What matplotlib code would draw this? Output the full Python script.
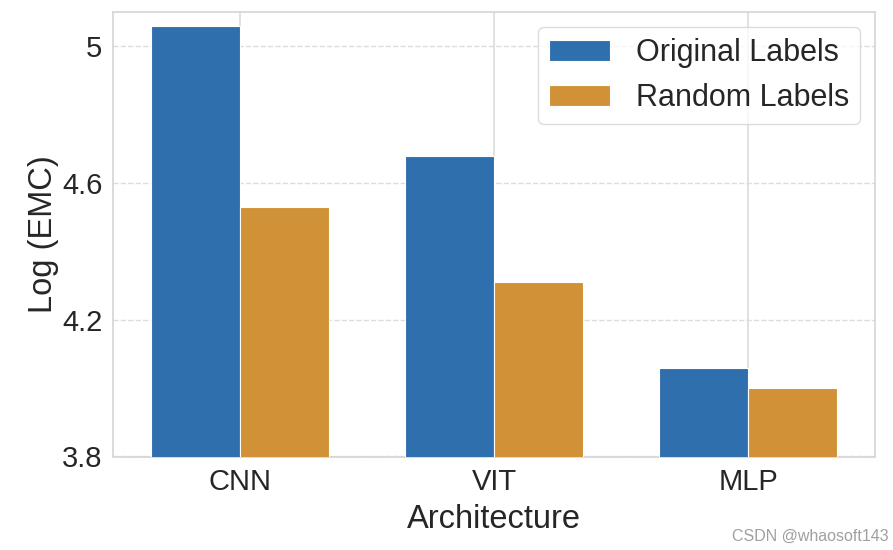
import numpy as np
import matplotlib.pyplot as plt

plt.rcParams['font.family'] = ['Liberation Sans', 'DejaVu Sans']

architectures = ['CNN', 'VIT', 'MLP']
original_labels = [5.06, 4.68, 4.06]
random_labels = [4.53, 4.31, 4.00]
yticks = [3.8, 4.2, 4.6, 5.0]
ytick_labels = ['3.8', '4.2', '4.6', '5']

x = np.arange(len(architectures))
width = 0.35

fig, ax = plt.subplots(figsize=(8.93, 5.5), dpi=100)
ax.bar(x - width / 2, original_labels, width, color='#2f6fad', label='Original Labels',
       edgecolor='white', linewidth=0.8, zorder=3)
ax.bar(x + width / 2, random_labels, width, color='#d19136', label='Random Labels',
       edgecolor='white', linewidth=0.8, zorder=3)

ax.set_xlim(-0.5, 2.5)
ax.set_ylim(3.8, 5.1)
ax.set_xticks(x)
ax.set_xticklabels(architectures)
ax.set_yticks(yticks)
ax.set_yticklabels(ytick_labels)
ax.tick_params(axis='both', labelsize=21, length=0, colors='#262626', pad=8)

ax.xaxis.grid(True, color='#dcdcdc', linewidth=1.2, zorder=0)
ax.yaxis.grid(True, color='#dcdcdc', linestyle='--', linewidth=1.0, zorder=0)
ax.set_axisbelow(True)
for s in ax.spines.values():
    s.set_color('#d4d4d4')
    s.set_linewidth(1.2)

ax.set_xlabel('Architecture', fontsize=23.5, color='#262626', labelpad=6)
ax.set_ylabel('Log (EMC)', fontsize=23.5, color='#262626', labelpad=2)

leg = ax.legend(fontsize=22, loc='upper right', frameon=True, handlelength=2.0,
                handleheight=0.7, borderpad=0.35, labelspacing=0.5, handletextpad=0.85,
                borderaxespad=0.5)
leg.get_frame().set_edgecolor('#d4d4d4')
for t in leg.get_texts():
    t.set_color('#262626')

fig.text(0.995, 0.012, 'CSDN @whaosoft143', ha='right', va='bottom', fontsize=11.5,
         color='#a0a0a0')

plt.subplots_adjust(left=0.127, right=0.98, top=0.978, bottom=0.17)
plt.savefig('out.png', dpi=100)
